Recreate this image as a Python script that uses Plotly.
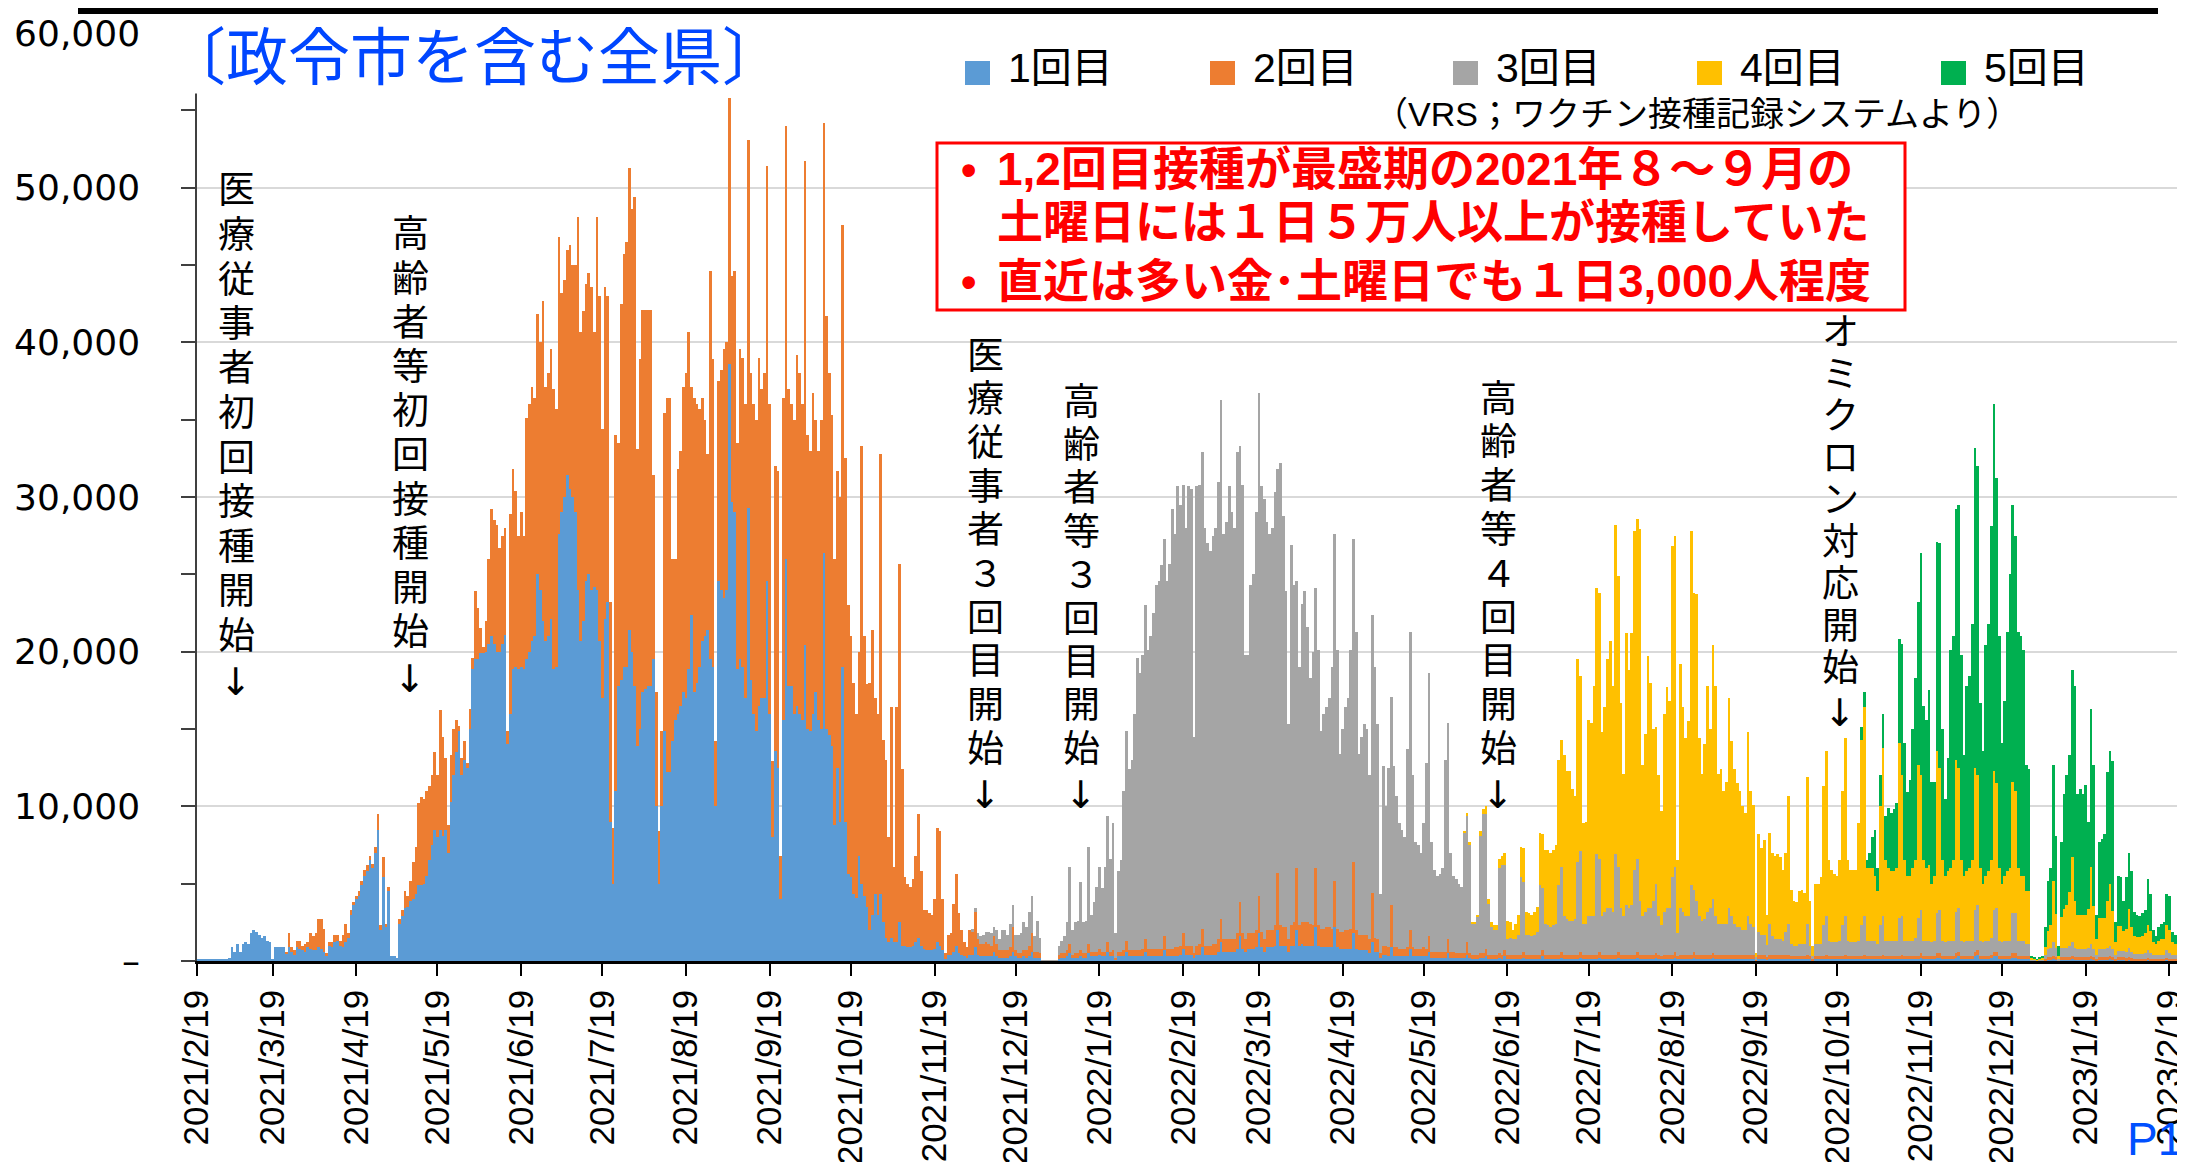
import pandas as pd
import plotly.graph_objects as go

# ------------------------------------------------------------------
# DATA  (vaccinations per day, in thousands of persons)
# one line = one week starting on a Friday
# ------------------------------------------------------------------
dose1_start = "2021-02-19"
dose1 = [
    0.1,0.1,0.1,0.1,0.1,0.1,0.1,      0.1,0.1,0.1,0.1,0.1,0.2,0.9,
    0.6,1.1,0.6,1.1,1.2,1.1,1.8,      2.0,1.9,1.7,1.5,1.6,1.3,1.2,
    0.1,0.9,0.9,0.9,0.9,0.5,0.9,      0.6,0.4,0.9,0.8,0.7,0.6,0.9,
    0.8,0.7,0.7,0.9,0.8,0.6,0.3,      1.0,0.9,1.2,1.3,1.0,0.9,1.2,
    1.5,3.0,3.6,4.0,4.2,4.9,5.5,      5.8,6.5,6.0,7.0,8.5,2.0,5.4,
    2.2,4.5,0.3,0.3,0.2,2.4,2.9,      3.4,3.5,3.9,4.0,4.3,4.9,4.9,
    5.0,5.5,6.5,7.5,8.5,8.0,8.5,      8.1,8.5,7.0,10.3,12.0,13.5,14.9,
    12.0,13.0,12.5,15.0,18.9,19.5,19.5, 19.9,19.9,20.0,20.5,21.0,20.5,20.0,
    20.0,20.5,21.1,14.0,16.0,18.9,19.0, 18.9,19.0,18.9,19.5,20.0,20.7,21.0,
    25.0,24.0,22.0,20.7,21.0,22.1,18.9, 19.0,27.6,29.0,30.0,31.4,30.5,30.0,
    29.0,24.0,20.7,22.0,24.6,25.0,24.0, 24.2,24.0,20.7,17.0,22.1,23.2,9.0,
    5.0,11.0,17.8,18.2,19.0,19.0,21.4, 20.0,17.8,13.9,15.0,17.4,17.6,17.8,
    17.8,19.5,10.0,5.0,10.0,14.9,12.2, 12.2,14.2,15.6,16.0,16.5,17.4,17.0,
    18.9,22.4,17.4,18.0,19.0,20.7,21.0, 21.4,19.5,19.0,10.0,24.6,24.0,23.5,
    24.0,38.6,29.7,29.0,18.9,19.5,19.0, 17.0,29.3,18.2,16.0,14.9,16.5,17.0,
    17.0,24.6,16.0,8.0,13.6,12.5,4.0,  15.6,26.0,17.8,17.8,16.0,16.5,16.0,
    15.6,20.4,15.0,14.9,16.0,17.4,15.6, 15.0,26.4,15.0,14.6,13.9,8.8,12.5,
    9.0,19.0,9.0,5.6,5.4,4.3,4.1,      6.8,5.0,4.2,3.5,2.0,3.0,4.3,
    3.0,4.3,2.5,1.5,1.2,1.5,1.2,      1.2,2.5,1.0,1.0,0.9,0.9,1.0,
    1.2,1.5,1.0,0.8,0.7,0.7,0.7,      0.8,1.2,1.0,0.7,0.1,0.4,0.4,
    0.6,1.0,0.5,0.4,0.3,0.2,0.4,      0.4,0.9,0.4,0.3,0.3,0.3,0.3,
    0.3,0.6,0.3,0.2,0.2,0.2,0.2,      0.3,0.6,0.3,0.2,0.2,0.3,0.2,
    0.3,0.6,0.2,0.2,0.2,0,0,          0,0,0,0,0.1,0.2,0.2,
    0.3,0.5,0.2,0.2,0.2,0.3,0.2,      0.2,0.5,0.3,0.3,0.3,0.4,0.3,
    0.3,0.6,0.3,0.3,0.1,0.3,0.3,      0.3,0.6,0.3,0.3,0.3,0.3,0.3,
    0.3,0.6,0.3,0.3,0.3,0.3,0.3,      0.3,0.7,0.3,0.3,0.3,0.3,0.3,
    0.4,0.8,0.4,0.4,0.4,0.2,0.4,      0.4,0.9,0.4,0.4,0.4,0.4,0.4,
    0.6,1.2,0.6,0.6,0.6,0.6,0.6,      0.8,1.6,0.8,0.6,0.8,0.8,0.8,
    0.9,1.8,0.9,0.6,0.9,0.9,0.9,      1.0,2.0,1.0,1.0,1.0,0.6,1.0,
    1.0,2.0,1.0,1.1,1.0,1.0,1.0,      1.0,2.2,1.0,0.9,0.9,0.9,0.9,
    0.9,2.2,0.9,0.8,0.8,0.8,0.8,      0.8,1.8,0.8,0.7,0.7,0.7,0.7,
    0.5,1.2,0.6,0.6,0.2,0.4,0.4,      0.3,0.9,0.3,0.3,0.3,0.3,0.3,
    0.3,0.8,0.3,0.3,0.3,0.3,0.3,      0.3,0.6,0.2,0.2,0.2,0.2,0.2,
    0.2,0.5,0.2,0.2,0.2,0.2,0.2,      0.2,0.4,0.2,0.1,0.1,0.1,0.2,
    0.2,0.3,0.1,0.1,0.1,0.1,0.2,      0.1,0.3,0.1,0.1,0.1,0.1,0.1,
    0.1,0.2,0.1,0.1,0.1,0.1,0.1,      0.1,0.3,0.1,0.1,0.1,0.1,0.1,
    0.1,0.2,0.1,0.1,0.1,0.1,0.1,      0.1,0.2,0.1,0.1,0.1,0.1,0.1,
    0.1,0.2,0.1,0.1,0.1,0.1,0.1,      0.1,0.2,0.1,0.1,0.1,0.1,0.1,
    0.1,0.2,0.1,0.1,0.1,0.1,0.1,      0.1,0.2,0.1,0.1,0.1,0.1,0.1,
    0.1,0.2,0.1,0.1,0.1,0.1,0.1,      0.1,0.2,0.1,0.1,0.1,0.1,0.1,
    0.1,0.2,0.1,0.1,0.1,0.1,0.1,      0.1,0.1,0.1,0.1,0.1,0.1,0.1,
    0.1,0.1,0.1,0,0.1,0.1,0.1,        0.05,0.1,0.1,0.1,0.1,0.1,0.1,
    0.1,0.1,0.1,0.1,0.1,0.1,0.1,      0.1,0.1,0.1,0,0.1,0.1,0.1,
    0.1,0.1,0.1,0.1,0.1,0.1,0.1,      0.1,0.1,0.1,0.1,0.1,0.1,0.1,
    0.1,0.1,0.1,0.1,0.1,0.1,0.1,      0.1,0.1,0.1,0.1,0.1,0.1,0.1,
    0.1,0.1,0.1,0.1,0.1,0.1,0.1,      0.1,0.2,0.1,0.1,0.1,0.1,0.1,
    0.2,0.2,0.1,0.1,0.1,0.1,0.1,      0.2,0.3,0.1,0.1,0.1,0.1,0.1,
    0.3,0.4,0.1,0.1,0.1,0.1,0.2,      0.3,0.3,0.1,0.1,0.1,0.1,0.1,
    0.2,0.2,0.1,0.1,0.1,0.1,0.1,      0,0,0,0,0,0,0.05,
    0.05,0.1,0.05,0,0.05,0.05,0.05,   0.05,0.1,0.05,0.05,0.05,0.05,0.05,
    0.05,0.1,0.05,0.02,0.05,0.05,0.05, 0.05,0.1,0.05,0.02,0.05,0.05,0.05,
    0.03,0.05,0.03,0.03,0.03,0.03,0.03, 0.03,0.05,0.03,0.02,0.02,0.02,0.02,
    0.02,0.05,0.02,0.02,0.02,0.02,0.01, 0.02,0.03,0.01,
]

dose2_start = "2021-03-19"
dose2 = [
    0,0,0,0,0,0.1,0.9,                0.3,0.3,0.4,0.5,0.3,0.5,0.3,
    1.0,0.9,1.1,1.8,1.9,1.5,0.2,      0.2,0.3,0.5,0.4,0.3,0.8,1.2,
    0.3,0.3,0.2,0.2,0.3,0.3,0.4,      0.4,0.3,0.3,0.4,1.0,0.3,1.3,
    0.2,0.3,0,0,0,0.3,0.4,            1.1,0.7,1.3,2.4,3.1,5.3,5.7,
    5.5,5.5,4.8,4.5,5.0,4.0,7.7,      6.4,4.6,1.8,3.0,3.0,2.1,0.3,
    1.1,1.2,0.3,1.3,0.7,4.4,3.3,      1.6,0.4,2.0,5.5,8.2,8.0,8.2,
    6.7,7.0,6.9,0.9,12.9,12.9,11.4,   8.6,10.0,8.6,15.6,16.0,16.4,15.4,
    16.8,16.0,20.7,16.4,17.0,17.5,18.1, 16.7,19.2,14.2,14.0,14.6,15.8,15.0,
    16.0,24.1,20.0,20.0,19.2,19.5,19.6, 16.5,24.1,22.3,17.4,21.5,19.8,14.2,
    3.6,23.0,15.7,24.3,26.7,27.5,29.9, 28.6,31.6,19.2,23.9,24.7,24.5,24.3,
    24.3,11.9,7.4,3.4,4.9,20.5,24.2,  24.2,11.8,10.4,15.8,16.5,19.7,21.0,
    21.8,14.7,19.0,18.0,16.7,15.7,14.0, 11.4,25.1,19.9,4.2,12.9,14.2,16.1,
    16.0,17.2,14.6,15.6,14.6,20.1,20.0, 19.0,23.8,19.8,20.0,20.1,22.5,20.0,
    21.0,26.8,20.0,4.9,18.4,19.2,2.8, 20.8,28.0,19.2,18.2,19.0,22.7,22.0,
    20.4,31.3,19.0,18.1,20.7,17.6,17.4, 20.0,27.8,26.7,23.4,21.4,17.2,19.2,
    21.0,28.6,23.5,17.4,15.6,13.7,11.9, 13.2,28.3,16.8,14.4,16.0,18.4,12.7,
    13.0,28.5,11.8,11.5,6.8,14.9,4.9,  15.2,23.2,11.4,4.4,4.1,3.9,4.3,
    5.6,8.0,4.8,2.5,2.6,2.4,2.3,      3.2,7.4,7.4,3.3,0.4,1.3,1.4,
    3.1,4.6,2.6,1.6,0.9,0.7,1.6,      1.5,2.3,1.0,0.8,0.8,0.9,0.8,
    0.7,1.0,0.8,0.5,0.5,0.5,0.5,      0.6,1.6,0.4,0.3,0.3,0.4,0.5,
    0.7,1.2,0.4,0.4,0.3,0,0,          0,0,0,0,0.3,0.3,0.3,
    0.4,0.6,0.2,0.3,0.3,0.4,0.3,      0.3,0.6,0.3,0.3,0.3,0.4,0.3,
    0.3,0.6,0.3,0.4,0.1,0.3,0.3,      0.4,0.7,0.4,0.4,0.4,0.4,0.4,
    0.5,0.8,0.5,0.5,0.5,0.5,0.5,      0.5,0.9,0.5,0.5,0.5,0.6,0.6,
    0.6,1.0,0.6,0.6,0.6,0.3,0.6,      0.7,1.2,0.6,0.6,0.6,0.7,0.7,
    0.8,1.5,0.8,0.8,0.8,0.8,0.8,      1.0,2.2,1.0,0.8,1.0,1.0,1.0,
    1.1,2.4,1.0,0.8,1.1,1.1,1.1,      1.3,3.7,1.3,1.2,1.2,0.8,1.3,
    1.5,4.0,1.3,1.4,1.5,1.5,1.4,      1.3,3.8,1.3,1.2,1.2,1.3,1.3,
    1.2,3.0,1.2,1.1,1.1,1.2,1.2,      1.3,4.6,1.2,1.0,1.0,1.0,1.0,
    0.9,3.2,0.9,0.8,0.3,0.6,0.6,      0.6,2.7,0.6,0.6,0.5,0.5,0.5,
    0.6,1.2,0.6,0.5,0.5,0.5,0.6,      0.5,1.0,0.4,0.4,0.4,0.4,0.4,
    0.4,0.9,0.4,0.4,0.3,0.3,0.3,      0.3,0.8,0.3,0.3,0.3,0.3,0.3,
    0.3,0.5,0.3,0.3,0.3,0.3,0.3,      0.3,0.4,0.3,0.3,0.3,0.3,0.3,
    0.3,0.4,0.3,0.3,0.3,0.3,0.3,      0.3,0.4,0.3,0.3,0.3,0.3,0.3,
    0.3,0.4,0.3,0.3,0.3,0.3,0.3,      0.3,0.4,0.3,0.3,0.3,0.3,0.3,
    0.3,0.4,0.3,0.3,0.3,0.3,0.3,      0.3,0.4,0.3,0.3,0.3,0.3,0.3,
    0.3,0.4,0.3,0.3,0.3,0.3,0.3,      0.3,0.3,0.3,0.2,0.3,0.3,0.3,
    0.3,0.4,0.2,0.3,0.3,0.3,0.3,      0.3,0.4,0.3,0.3,0.3,0.3,0.3,
    0.3,0.3,0.3,0.3,0.3,0.3,0.3,      0.3,0.3,0.3,0.3,0.3,0.3,0.3,
    0.3,0.3,0.3,0.05,0.3,0.3,0.3,     0.2,0.3,0.3,0.3,0.3,0.3,0.3,
    0.3,0.3,0.2,0.2,0.2,0.2,0.2,      0.2,0.3,0.2,0.1,0.2,0.2,0.2,
    0.2,0.3,0.2,0.2,0.2,0.2,0.2,      0.2,0.3,0.2,0.2,0.2,0.2,0.2,
    0.2,0.3,0.2,0.2,0.2,0.2,0.2,      0.2,0.3,0.2,0.2,0.2,0.2,0.2,
    0.2,0.3,0.2,0.2,0.2,0.2,0.2,      0.2,0.3,0.2,0.2,0.2,0.2,0.2,
    0.3,0.3,0.2,0.2,0.2,0.2,0.2,      0.3,0.3,0.2,0.2,0.2,0.2,0.2,
    0.3,0.3,0.2,0.2,0.2,0.2,0.2,      0.3,0.3,0.2,0.2,0.2,0.2,0.2,
    0.3,0.3,0.2,0.2,0.2,0.2,0.2,      0.05,0.05,0.02,0.05,0.05,0.1,0.2,
    0.2,0.2,0.2,0.05,0.2,0.2,0.2,     0.2,0.2,0.2,0.2,0.2,0.2,0.2,
    0.2,0.2,0.2,0.1,0.2,0.2,0.2,      0.2,0.2,0.2,0.1,0.2,0.2,0.2,
    0.15,0.2,0.15,0.1,0.1,0.1,0.1,    0.1,0.15,0.1,0.1,0.1,0.1,0.1,
    0.1,0.15,0.1,0.1,0.1,0.1,0.05,    0.1,0.1,0.05,
]

dose3_start = "2021-12-03"
dose3 = [
    0.2,0.2,0.4,0.5,0.6,0.7,0.8,      0.8,0.6,0.9,0.7,1.3,1.3,1.0,
    1.5,1.4,1.0,1.2,1.3,1.8,1.5,      2.2,2.4,1.0,2.0,1.0,0.05,0.05,
    0.05,0.05,0.05,0.05,0.6,0.8,1.1,  1.8,5.0,1.6,2.0,2.1,4.4,2.0,
    2.1,6.3,2.4,3.2,4.2,5.3,4.1,      5.5,8.2,6.0,8.2,1.6,5.2,5.9,
    10.3,13.6,11.7,12.3,15.3,18.9,17.9, 19.0,21.6,19.3,20.2,21.7,23.5,23.8,
    24.8,25.7,23.8,24.9,28.4,26.7,29.8, 28.5,29.0,27.0,29.7,29.5,14.0,29.7,
    29.7,30.8,27.0,26.0,25.5,26.4,26.9, 29.6,33.6,26.2,27.0,29.3,27.6,26.6,
    31.1,29.5,29.0,18.4,18.0,22.5,23.2, 27.0,32.5,28.8,28.5,26.4,25.6,26.0,
    28.0,26.1,29.9,26.6,21.7,13.9,24.6, 21.8,18.6,16.7,20.6,21.4,19.1,15.9,
    17.7,18.1,17.8,12.8,13.9,14.2,14.8, 16.9,22.4,18.0,11.5,13.1,14.4,15.0,
    18.0,20.9,19.3,11.7,12.8,13.6,13.3, 10.6,18.0,17.5,13.9,3.8,11.6,9.0,
    11.6,13.5,11.7,9.8,8.1,7.7,7.2,   12.8,19.3,11.1,6.9,6.7,6.2,8.0,
    12.0,17.0,7.1,5.3,4.9,5.0,5.4,    12.4,14.0,6.4,4.9,4.8,4.5,4.3,
    7.8,8.2,7.0,2.0,2.0,2.5,7.6,      9.0,8.7,3.3,1.8,1.6,1.6,5.5,
    5.8,5.5,1.0,1.1,1.0,1.0,1.3,      5.0,4.5,1.3,1.3,1.2,1.3,1.5,
    4.5,4.0,2.0,1.9,1.8,1.9,2.0,      4.5,5.5,2.5,2.3,2.2,2.2,2.3,
    6.0,6.5,2.0,2.0,2.5,2.5,2.5,      6.5,6.0,2.5,2.8,3.0,3.0,2.8,
    6.5,5.5,3.0,2.5,3.2,3.0,3.2,      5.5,6.0,3.5,2.5,2.8,3.0,3.0,
    3.5,4.5,2.5,2.0,2.8,3.0,3.0,      5.0,5.5,1.5,3.0,2.8,2.5,2.5,
    4.5,4.0,3.5,2.5,2.2,2.3,2.8,      3.0,3.5,2.5,2.0,2.0,2.0,2.0,
    3.0,2.5,2.0,1.8,1.8,1.6,1.6,      2.5,2.0,1.8,0.2,1.5,1.3,1.3,
    0.8,2.0,1.2,1.0,1.0,1.0,0.9,      1.5,2.0,0.8,0.7,0.7,0.8,0.8,
    0.8,2.0,0.7,0.2,0.8,0.8,0.8,      2.0,2.5,1.0,0.9,0.9,0.9,1.0,
    2.0,2.5,1.0,0.9,0.9,0.9,1.0,      2.0,2.5,1.0,1.0,1.0,1.0,0.8,
    2.0,2.5,1.0,1.0,1.0,1.0,1.0,      2.5,2.5,1.0,1.0,1.0,1.0,1.2,
    2.5,2.8,1.0,1.0,1.0,0.9,1.0,      2.6,2.8,1.0,0.9,1.0,1.0,1.0,
    2.7,2.8,1.0,0.9,1.0,1.0,1.0,      2.7,2.9,1.0,0.9,1.0,1.0,1.1,
    2.7,2.8,1.0,0.9,1.0,1.0,1.0,      2.6,2.6,1.0,1.0,1.0,0.8,0.8,
    0.05,0.05,0.02,0.05,0.05,0.3,0.5, 0.6,0.9,0.6,0.1,0.6,0.6,0.6,
    0.7,0.9,0.6,0.5,0.5,0.5,0.5,      0.6,0.8,0.5,0.3,0.5,0.5,0.5,
    0.6,0.7,0.5,0.3,0.4,0.4,0.4,      0.4,0.6,0.4,0.3,0.3,0.3,0.3,
    0.4,0.5,0.4,0.3,0.3,0.3,0.3,      0.3,0.5,0.4,0.3,0.3,0.3,0.2,
    0.4,0.4,0.2,
]

dose4_start = "2022-06-03"
dose4 = [
    0.1,0.2,0.2,0.1,0.1,0.1,0.3,      0.3,0.5,0.3,0.3,0.3,0.3,0.6,
    0.6,0.8,1.2,1.0,0.6,1.0,1.3,      2.0,2.2,1.5,1.4,1.4,1.5,1.6,
    3.4,3.5,4.8,4.9,4.8,4.9,5.1,      8.1,8.2,10.4,9.6,9.7,8.5,8.0,
    13.1,11.3,6.5,6.6,12.7,12.5,14.9, 17.2,17.2,11.9,13.2,16.1,17.3,14.6,
    21.3,18.8,13.3,9.2,17.6,15.4,17.6, 21.9,22.0,24.0,9.8,11.5,16.3,14.6,
    11.1,10.1,9.1,7.4,12.8,14.3,13.4, 21.4,21.4,4.7,15.8,13.2,11.5,12.6,
    22.9,19.2,19.8,11.5,9.5,11.3,14.6, 11.6,16.4,14.9,9.7,10.0,8.6,9.2,
    13.6,11.3,10.0,9.3,8.8,8.0,7.6,   11.9,8.6,7.9,0.25,6.3,5.6,6.1,
    1.95,5.9,5.4,5.4,5.5,5.3,4.6,     5.1,8.3,3.5,2.9,2.8,3.4,3.5,
    3.3,9.5,2.9,0.7,3.9,3.9,4.3,      9.0,10.7,5.2,4.7,4.4,4.3,5.2,
    8.7,11.5,5.2,4.7,4.7,4.7,7.6,     12.0,13.5,4.7,4.7,4.7,4.2,3.4,
    7.7,10.9,5.2,4.7,4.5,4.5,4.7,     11.3,9.1,5.2,4.2,4.2,4.7,5.0,
    9.9,8.7,5.2,4.7,4.9,3.8,4.2,      10.5,9.2,5.2,4.3,4.5,4.7,5.2,
    9.8,9.1,5.2,4.3,4.5,4.7,5.2,      9.2,8.4,4.7,3.8,4.2,4.5,5.0,
    9.0,8.1,4.7,3.8,4.2,4.5,4.7,      8.5,7.9,4.7,4.2,4.2,3.4,3.4,
    0.1,0.05,0.03,0.05,0.1,0.5,1.2,   1.5,4.0,2.2,0.2,2.0,2.5,2.8,
    3.5,5.5,3.0,2.2,2.2,2.2,2.2,      2.5,5.0,2.8,1.0,2.0,2.0,2.0,
    3.0,4.0,2.5,0.8,1.6,1.6,1.3,      1.5,2.5,1.6,1.2,1.1,1.1,1.2,
    1.3,1.6,1.4,0.8,0.7,0.9,1.0,      1.0,1.6,1.5,0.8,0.7,0.7,0.4,
    1.3,1.2,0.5,
]

dose5_start = "2022-10-28"
dose5 = [
    0.8,1.0,0.5,1.0,2.0,3.0,1.5,      2.0,2.2,2.9,3.9,3.8,4.0,4.2,
    6.7,8.5,7.6,5.4,6.2,9.0,11.8,     10.5,14.4,10.0,9.6,11.3,6.6,6.1,
    13.5,14.5,8.5,5.0,7.3,14.1,14.5,  16.2,17.0,13.3,7.8,12.0,12.4,15.3,
    20.7,20.0,10.7,8.6,14.9,16.0,21.6, 23.7,19.7,15.0,9.1,11.3,15.5,19.0,
    17.9,16.5,15.3,15.5,14.6,8.2,7.9, 0.1,0.05,0.03,0.05,0.1,1.3,3.25,
    3.65,7.5,5.05,0.65,4.85,7.45,8.35, 8.85,12.1,13.95,7.85,8.15,7.85,8.45,
    5.65,10.2,9.15,1.58,4.95,5.15,5.45, 8.35,8.6,9.65,1.28,3.25,3.15,1.95,
    3.32,3.65,3.62,1.57,1.47,1.37,1.47, 1.47,3.0,2.37,0.78,0.48,0.88,0.98,
    1.08,2.0,2.18,0.68,0.58,0.58,0.34, 1.48,1.37,0.44,
]

series_names = ["1回目", "2回目", "3回目", "4回目", "5回目"]
series_colors = ["#5B9BD5", "#ED7D31", "#A5A5A5", "#FFC000", "#00B050"]

x_tick_labels = [
    "2021/2/19", "2021/3/19", "2021/4/19", "2021/5/19", "2021/6/19", "2021/7/19",
    "2021/8/19", "2021/9/19", "2021/10/19", "2021/11/19", "2021/12/19",
    "2022/1/19", "2022/2/19", "2022/3/19", "2022/4/19", "2022/5/19", "2022/6/19",
    "2022/7/19", "2022/8/19", "2022/9/19", "2022/10/19", "2022/11/19", "2022/12/19",
    "2023/1/19", "2023/2/19",
]
y_tick_values = [0, 10, 20, 30, 40, 50, 60]          # thousands
y_tick_labels = ["–", "10,000", "20,000", "30,000", "40,000", "50,000", "60,000"]
y_minor_values = [5, 15, 25, 35, 45, 55]

title_text = "〔政令市を含む全県〕"
source_text = "（VRS；ワクチン接種記録システムより）"
note_lines = [
    "1,2回目接種が最盛期の2021年８～９月の",
    "土曜日には１日５万人以上が接種していた",
    "直近は多い金･土曜日でも１日3,000人程度",
]
event_labels = [
    "医療従事者初回接種開始↓",
    "高齢者等初回接種開始↓",
    "医療従事者３回目開始↓",
    "高齢者等３回目開始↓",
    "高齢者等４回目開始↓",
    "オミクロン対応開始↓",
]
page_label = "P1"

# ------------------------------------------------------------------
# FIGURE
# ------------------------------------------------------------------
W, H = 2185, 1162
PL, PR, PT, PB = 189, W, 25, 953          # plot area in pixels
JP = "Liberation Sans, Noto Sans CJK JP"  # latin metrics, CJK glyphs by fallback
ARROW = "DejaVu Sans, Noto Sans CJK JP"

def px_x(px):
    return (px - PL) / (PR - PL)

def px_y(py):
    return (PB - py) / (PB - PT)

fig = go.Figure()
for name, color, start, vals in zip(
        series_names, series_colors,
        [dose1_start, dose2_start, dose3_start, dose4_start, dose5_start],
        [dose1, dose2, dose3, dose4, dose5]):
    dates = pd.date_range(start, periods=len(vals), freq="D")
    fig.add_trace(go.Bar(x=dates, y=vals, name=name,
                         marker=dict(color=color, line=dict(width=0)),
                         showlegend=False))

tick_dates = [pd.to_datetime(t, format="%Y/%m/%d") for t in x_tick_labels]
x_start = pd.Timestamp("2021-02-19")
x_end = x_start + pd.Timedelta(hours=738.7 * 24)

fig.update_layout(
    width=W, height=H,
    margin=dict(l=PL, r=W - PR, t=PT, b=H - PB, pad=0),
    paper_bgcolor="white", plot_bgcolor="white",
    barmode="stack", bargap=0,
    showlegend=False,
    xaxis=dict(
        type="date", range=[x_start, x_end], automargin=False,
        tickmode="array", tickvals=tick_dates, ticktext=x_tick_labels,
        tickangle=-90, ticks="outside", ticklen=12, tickwidth=2, tickcolor="#000",
        showline=True, linecolor="#000", linewidth=2.5,
        showgrid=False, zeroline=False,
        tickfont=dict(family="Liberation Sans", size=35, color="#000"),
    ),
    yaxis=dict(
        range=[0, 60], automargin=False,
        tickmode="array", tickvals=y_tick_values, ticktext=y_tick_labels,
        ticks="outside", ticklen=14, tickwidth=1.5, tickcolor="#404040",
        minor=dict(tickvals=y_minor_values, ticks="outside", ticklen=14,
                   tickwidth=1.5, tickcolor="#404040", showgrid=False),
        showline=True, linecolor="#404040", linewidth=1.5,
        showgrid=True, gridcolor="#D9D9D9", gridwidth=2, zeroline=False,
        tickfont=dict(family="DejaVu Sans", size=36, color="#000"),
        ticklabelstandoff=34,
    ),
)

shapes = []
annotations = []

# top black rule
shapes.append(dict(type="rect", xref="paper", yref="paper",
                   x0=px_x(70), x1=px_x(2150), y0=px_y(6), y1=px_y(0),
                   fillcolor="#000", line=dict(width=0), layer="above"))

# title
annotations.append(dict(text=title_text, xref="paper", yref="paper",
                        x=px_x(466), y=px_y(50), xanchor="center", yanchor="middle",
                        showarrow=False, bgcolor="white", borderpad=0,
                        font=dict(family=JP, size=62, color="#0046FF")))

# manual legend
legend_sq_x = [957, 1202, 1445, 1689, 1933]
for name, color, sx in zip(series_names, series_colors, legend_sq_x):
    shapes.append(dict(type="rect", xref="paper", yref="paper",
                       x0=px_x(sx), x1=px_x(sx + 25), y0=px_y(77), y1=px_y(53),
                       fillcolor=color, line=dict(width=0), layer="above"))
    annotations.append(dict(text=name, xref="paper", yref="paper",
                            x=px_x(sx + 42), y=px_y(60), xanchor="left", yanchor="middle",
                            showarrow=False, borderpad=0,
                            font=dict(family=JP, size=41, color="#000")))

# source note
annotations.append(dict(text=source_text, xref="paper", yref="paper",
                        x=px_x(1689), y=px_y(106), xanchor="center", yanchor="middle",
                        showarrow=False, borderpad=0,
                        font=dict(family=JP, size=34, color="#000")))

# red box
shapes.append(dict(type="rect", xref="paper", yref="paper",
                   x0=px_x(929), x1=px_x(1897), y0=px_y(302), y1=px_y(135),
                   fillcolor="white", line=dict(color="#FF0000", width=3), layer="above"))
note_y = [161, 214, 273]
note_bullet = [True, False, True]
for txt, ny, bul in zip(note_lines, note_y, note_bullet):
    if bul:
        annotations.append(dict(text="<b>•</b>", xref="paper", yref="paper",
                                x=px_x(960), y=px_y(ny), xanchor="center", yanchor="middle",
                                showarrow=False, borderpad=0,
                                font=dict(family=JP, size=44, color="#FF0000")))
    annotations.append(dict(text="<b>" + txt + "</b>", xref="paper", yref="paper",
                            x=px_x(988), y=px_y(ny), xanchor="left", yanchor="middle",
                            showarrow=False, borderpad=0,
                            font=dict(family=JP, size=46, color="#FF0000")))

# vertical event labels, one character per row:
# (centre x, first-character centre y, row pitch) in pixels
event_pos = [(228, 183, 44.5), (402, 227, 44.2), (977, 348, 43.7),
             (1073, 394, 43.4), (1490, 391, 43.8), (1832, 324, 42.1)]
for label, (cx, cy, step) in zip(event_labels, event_pos):
    for i, ch in enumerate(label):
        is_arrow = ch == "↓"
        annotations.append(dict(text=ch, xref="paper", yref="paper",
                                x=px_x(cx), y=px_y(cy + i * step + (2 if is_arrow else 0)),
                                xanchor="center", yanchor="middle", showarrow=False,
                                borderpad=0,
                                font=dict(family=ARROW if is_arrow else JP,
                                          size=38 if is_arrow else 37, color="#000")))

# page label at the lower right corner
annotations.append(dict(text=page_label, xref="paper", yref="paper",
                        x=px_x(2118), y=px_y(1158), xanchor="left", yanchor="bottom",
                        showarrow=False, borderpad=0, bgcolor="rgba(0,0,0,0)",
                        font=dict(family="Liberation Sans", size=46, color="#0050FF")))

fig.update_layout(shapes=shapes, annotations=annotations)
fig.write_html("out.html")
